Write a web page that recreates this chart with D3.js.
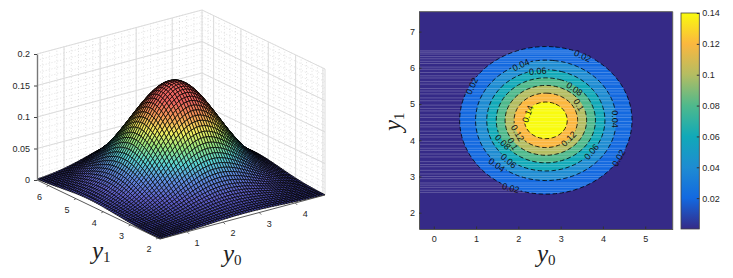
<!DOCTYPE html>
<html>
<head>
<meta charset="utf-8">
<script src="https://cdn.jsdelivr.net/npm/d3@7"></script>
<style>
body { margin: 0; background: #fff; }
text { font-family: "Liberation Sans", sans-serif; fill: #262626; }
.math { font-family: "Liberation Serif", serif; fill: #222; }
</style>
</head>
<body>
<div id="figure"></div>
<script>
// Nodes of the sampled density
var nodeStep = 0.075;
var y0Nodes = d3.range(81).map(function(i) { return Math.round((-0.35 + i * nodeStep) * 1000) / 1000; });
var y1Nodes = d3.range(81).map(function(i) { return Math.round((1.55 + i * nodeStep) * 1000) / 1000; });

// Slices through the peak, estimated from the contour radii in the picture.
// The surface is taken as the product of the two slices.
var peak = 0.1592;
var sliceY0 = [
    0.0018, 0.0022, 0.0027, 0.0034, 0.0042, 0.0051, 0.0062, 0.0074, 0.0089, 0.0106,
    0.0127, 0.0150, 0.0176, 0.0205, 0.0238, 0.0274, 0.0315, 0.0359, 0.0408, 0.0461,
    0.0517, 0.0577, 0.0640, 0.0706, 0.0775, 0.0845, 0.0917, 0.0990, 0.1062, 0.1133,
    0.1201, 0.1268, 0.1330, 0.1387, 0.1439, 0.1484, 0.1522, 0.1552, 0.1574, 0.1588,
    0.1592,
    0.1588, 0.1574, 0.1552, 0.1522, 0.1484, 0.1439, 0.1387, 0.1330, 0.1268, 0.1201,
    0.1133, 0.1062, 0.0990, 0.0917, 0.0845, 0.0775, 0.0706, 0.0640, 0.0577, 0.0517,
    0.0461, 0.0408, 0.0359, 0.0315, 0.0274, 0.0238, 0.0205, 0.0176, 0.0150, 0.0127,
    0.0106, 0.0089, 0.0074, 0.0062, 0.0051, 0.0042, 0.0034, 0.0027, 0.0022, 0.0018
];
var sliceY1 = [
    0.0018, 0.0022, 0.0027, 0.0034, 0.0042, 0.0051, 0.0062, 0.0074, 0.0089, 0.0106,
    0.0127, 0.0150, 0.0176, 0.0205, 0.0238, 0.0274, 0.0315, 0.0359, 0.0408, 0.0461,
    0.0517, 0.0577, 0.0640, 0.0706, 0.0775, 0.0845, 0.0917, 0.0990, 0.1062, 0.1133,
    0.1201, 0.1268, 0.1330, 0.1387, 0.1439, 0.1484, 0.1522, 0.1552, 0.1574, 0.1588,
    0.1592,
    0.1588, 0.1574, 0.1552, 0.1522, 0.1484, 0.1439, 0.1387, 0.1330, 0.1268, 0.1201,
    0.1133, 0.1062, 0.0990, 0.0917, 0.0845, 0.0775, 0.0706, 0.0640, 0.0577, 0.0517,
    0.0461, 0.0408, 0.0359, 0.0315, 0.0274, 0.0238, 0.0205, 0.0176, 0.0150, 0.0127,
    0.0106, 0.0089, 0.0074, 0.0062, 0.0051, 0.0042, 0.0034, 0.0027, 0.0022, 0.0018
];

var contourLevels = [0.02, 0.04, 0.06, 0.08, 0.1, 0.12, 0.14];
var contourLabels = ["0.02", "0.02", "0.04", "0.06", "0.08", "0.1", "0.14", "0.04", "0.12", "0.1", "0.08", "0.12", "0.06", "0.02", "0.06", "0.04", "0.02"];
var contourLabelY0 = [3.52, 0.90, 2.06, 2.46, 3.33, 3.43, 2.22, 4.28, 1.98, 1.87, 1.63, 3.19, 3.73, 4.37, 1.77, 1.49, 1.82];
var contourLabelY1 = [6.33, 5.50, 6.08, 5.91, 5.42, 4.98, 4.73, 4.59, 4.20, 3.90, 3.95, 4.04, 3.68, 3.51, 3.43, 3.32, 2.68];
var contourLabelTurn = [25, -65, -25, -5, 35, 60, -70, 90, 60, 60, 45, -45, -50, -60, 40, 35, 15];

var surfaceTicksY0 = [1, 2, 3, 4];
var surfaceTicksY1 = [2, 3, 4, 5, 6];
var surfaceTicksZ = [0, 0.05, 0.1, 0.15, 0.2];
var mapTicksY0 = [0, 1, 2, 3, 4, 5];
var mapTicksY1 = [2, 3, 4, 5, 6, 7];
var barTicks = [0.02, 0.04, 0.06, 0.08, 0.1, 0.12, 0.14];

// Rows of the pale horizontal streaks in the right panel
var streakRows = [6.47, 6.43, 6.38, 6.31, 6.25, 6.18, 6.12, 6.02, 5.96, 5.87, 5.78, 5.72, 5.62, 5.55, 5.43, 5.36,
    5.28, 5.17, 5.09, 4.97, 4.88, 4.81, 4.70, 4.63, 4.52, 4.43, 4.37, 4.25, 4.16, 4.09, 3.97, 3.89,
    3.78, 3.72, 3.62, 3.54, 3.41, 3.33, 3.27, 3.17, 3.07, 3.00, 2.94, 2.82, 2.76, 2.70, 2.62, 2.56];

var parula = ["#352a87", "#1369e0", "#1e8cd2", "#11a9b8", "#4fb98c", "#b4bd62", "#fbb73f", "#f9fb0e"];
var surfaceColors = ["#34348a", "#5f5fc8", "#5f8ee2", "#5ad6d6", "#96e680", "#f4ee60", "#f69c58", "#ec6460"];

function zAt(i, j) {
    return sliceY0[i] * sliceY1[j] / peak;
}

var svg = d3.select("#figure").append("svg").attr("width", 733).attr("height", 278);

function mathLabel(parent, x, y, sub, rotate) {
    var t = parent.append("text").attr("class", "math")
        .attr("transform", "translate(" + x + "," + y + ")" + (rotate ? " rotate(" + rotate + ")" : ""));
    t.append("tspan").attr("font-size", 25).attr("font-style", "italic").text("y");
    t.append("tspan").attr("font-size", 15).attr("dx", 0).attr("dy", 3).text(sub);
}

// ---------- left panel, 3d surface ----------
var front = [160, 239], toRight = [165, -44], toLeft = [-123, -59], zHeight = 126;

var u = d3.scaleLinear().domain([0.25, 4.825]).range([0, 1]);
var v = d3.scaleLinear().domain([1.925, 6.425]).range([0, 1]);
var w = d3.scaleLinear().domain([0, 0.2]).range([0, 1]);

function project(a, b, c) {
    var px = front[0] + u(a) * toRight[0] + v(b) * toLeft[0];
    var py = front[1] + u(a) * toRight[1] + v(b) * toLeft[1] - w(c) * zHeight;
    return [px, py];
}

var left = svg.append("g");
var y0Min = u.domain()[0], y0Max = u.domain()[1], y1Min = v.domain()[0], y1Max = v.domain()[1];

function wallLine(p, q, color, width, dash) {
    left.append("line")
        .attr("x1", p[0]).attr("y1", p[1]).attr("x2", q[0]).attr("y2", q[1])
        .attr("stroke", color).attr("stroke-width", width).attr("stroke-dasharray", dash);
}

// minor grid first, dotted
d3.range(0.2, 5, 0.2).forEach(function(a) {
    if (a > y0Min && a < y0Max) wallLine(project(a, y1Max, 0), project(a, y1Max, 0.2), "#d4d4d4", 0.7, "1,2");
});
d3.range(2, 6.5, 0.2).forEach(function(b) {
    if (b > y1Min && b < y1Max) wallLine(project(y0Max, b, 0), project(y0Max, b, 0.2), "#d4d4d4", 0.7, "1,2");
});
d3.range(0, 0.2001, 0.01).forEach(function(c) {
    wallLine(project(y0Min, y1Max, c), project(y0Max, y1Max, c), "#d4d4d4", 0.7, "1,2");
    wallLine(project(y0Max, y1Max, c), project(y0Max, y1Min, c), "#d4d4d4", 0.7, "1,2");
});
// major grid
surfaceTicksY0.forEach(function(a) {
    wallLine(project(a, y1Max, 0), project(a, y1Max, 0.2), "#dcdcdc", 1);
});
surfaceTicksY1.forEach(function(b) {
    if (b > y1Min) wallLine(project(y0Max, b, 0), project(y0Max, b, 0.2), "#dcdcdc", 1);
});
surfaceTicksZ.forEach(function(c) {
    wallLine(project(y0Min, y1Max, c), project(y0Max, y1Max, c), "#dcdcdc", 1);
    wallLine(project(y0Max, y1Max, c), project(y0Max, y1Min, c), "#dcdcdc", 1);
});
wallLine(project(y0Max, y1Max, 0), project(y0Max, y1Max, 0.2), "#dcdcdc", 1);
wallLine(project(y0Max, y1Min, 0), project(y0Max, y1Min, 0.2), "#dcdcdc", 1);

// surface cells, far corner first
var surfaceColor = d3.scaleLinear()
    .domain(d3.range(8).map(function(k) { return k * 0.135 / 7; }))
    .range(surfaceColors)
    .clamp(true);

var cells = [];
for (var i = y0Nodes.length - 2; i >= 0; i--) {
    for (var j = y1Nodes.length - 2; j >= 0; j--) {
        if (y0Nodes[i] < y0Min - 0.001 || y0Nodes[i + 1] > y0Max + 0.001) continue;
        if (y1Nodes[j] < y1Min - 0.001 || y1Nodes[j + 1] > y1Max + 0.001) continue;
        cells.push([i, j]);
    }
}
var line3d = d3.line();
left.append("g").selectAll("path").data(cells).join("path")
    .attr("d", function(c) {
        var i = c[0], j = c[1];
        return line3d([
            project(y0Nodes[i], y1Nodes[j], zAt(i, j)),
            project(y0Nodes[i + 1], y1Nodes[j], zAt(i + 1, j)),
            project(y0Nodes[i + 1], y1Nodes[j + 1], zAt(i + 1, j + 1)),
            project(y0Nodes[i], y1Nodes[j + 1], zAt(i, j + 1))
        ]) + "Z";
    })
    .attr("fill", function(c) { return surfaceColor(zAt(c[0], c[1])); })
    .attr("stroke", "#000")
    .attr("stroke-width", 0.7);

// floor axes and ticks
wallLine(project(y0Min, y1Max, 0), project(y0Min, y1Min, 0), "#444", 0.9);
wallLine(project(y0Min, y1Min, 0), project(y0Max, y1Min, 0), "#444", 0.9);
surfaceTicksY0.forEach(function(a) {
    var p = project(a, y1Min, 0);
    wallLine(p, [p[0] + 2, p[1] + 2], "#444", 0.8);
    left.append("text").attr("x", p[0] + 10).attr("y", p[1] + 14)
        .attr("text-anchor", "middle").attr("font-size", 9).text(a);
});
surfaceTicksY1.forEach(function(b) {
    var p = project(y0Min, b, 0);
    wallLine(p, [p[0] - 2, p[1] + 1], "#444", 0.8);
    left.append("text").attr("x", p[0] - 9).attr("y", p[1] + 14)
        .attr("text-anchor", "middle").attr("font-size", 9).text(b);
});

var zAxisScale = d3.scaleLinear().domain(w.domain()).range([project(y0Min, y1Max, 0)[1], project(y0Min, y1Max, 0.2)[1]]);
var zAxis = left.append("g")
    .attr("transform", "translate(" + project(y0Min, y1Max, 0)[0] + ",0)")
    .call(d3.axisLeft(zAxisScale).tickValues(surfaceTicksZ).tickFormat(d3.format("~g")).tickSize(3).tickSizeOuter(0).tickPadding(4));
zAxis.select(".domain").attr("stroke", "#777").attr("stroke-width", 1.4);
zAxis.selectAll("line").attr("stroke", "#444");
zAxis.selectAll("text").attr("font-size", 9).attr("font-family", null);

mathLabel(svg, 92, 259, "1");
mathLabel(svg, 223, 262, "0");

// ---------- right panel, filled contours ----------
var frameX = [419, 672.7], frameY = [229, 11.7];
var xMap = d3.scaleLinear().domain([-0.35, 5.65]).range(frameX);
var yMap = d3.scaleLinear().domain([1.55, 7.55]).range(frameY);

var right = svg.append("g");
var defs = svg.append("defs");
defs.append("clipPath").attr("id", "frameClip").append("rect")
    .attr("x", frameX[0]).attr("y", frameY[1])
    .attr("width", frameX[1] - frameX[0]).attr("height", frameY[0] - frameY[1]);

var zFlat = [];
for (var r = 0; r < y1Nodes.length; r++) {
    for (var s = 0; s < y0Nodes.length; s++) {
        zFlat.push(zAt(s, r));
    }
}
var contourRings = d3.contours().size([y0Nodes.length, y1Nodes.length]).thresholds(contourLevels)(zFlat);
var gridToScreen = d3.geoTransform({
    point: function(gx, gy) {
        this.stream.point(xMap(-0.35 + (gx - 0.5) * nodeStep), yMap(1.55 + (gy - 0.5) * nodeStep));
    }
});
var ringPath = d3.geoPath(gridToScreen);

var bandColor = d3.scaleLinear()
    .domain(d3.range(8).map(function(k) { return k * 0.02; }))
    .range(parula);

var mapArea = right.append("g").attr("clip-path", "url(#frameClip)");
mapArea.append("rect")
    .attr("x", frameX[0]).attr("y", frameY[1])
    .attr("width", frameX[1] - frameX[0]).attr("height", frameY[0] - frameY[1])
    .attr("fill", parula[0]);
mapArea.selectAll("path.band").data(contourRings).join("path")
    .attr("class", "band")
    .attr("d", ringPath)
    .attr("fill", function(d) { return bandColor(d.value); });

// streaks stop at the right side of the outer contour
var streakClip = defs.append("clipPath").attr("id", "streakClip");
streakClip.append("path").attr("d", ringPath(contourRings[0]));
streakClip.append("rect")
    .attr("x", frameX[0]).attr("y", frameY[1])
    .attr("width", xMap(2.65) - frameX[0]).attr("height", frameY[0] - frameY[1]);
mapArea.append("g").attr("clip-path", "url(#streakClip)")
    .selectAll("line").data(streakRows).join("line")
    .attr("x1", frameX[0]).attr("x2", frameX[1])
    .attr("y1", function(d) { return yMap(d); }).attr("y2", function(d) { return yMap(d); })
    .attr("stroke", "#fff").attr("stroke-opacity", 0.28).attr("stroke-width", 0.8);

// contour lines break under their labels
var labelTransform = function(d, k) {
    return "translate(" + xMap(contourLabelY0[k]) + "," + yMap(contourLabelY1[k]) + ") rotate(" + contourLabelTurn[k] + ")";
};
var edgeMask = defs.append("mask").attr("id", "edgeMask").attr("maskUnits", "userSpaceOnUse")
    .attr("x", 0).attr("y", 0).attr("width", 733).attr("height", 278);
edgeMask.append("rect").attr("width", 733).attr("height", 278).attr("fill", "#fff");
edgeMask.selectAll("rect.hole").data(contourLabels).join("rect")
    .attr("class", "hole")
    .attr("transform", labelTransform)
    .attr("x", function(d) { return -d.length * 2.3 - 1; })
    .attr("width", function(d) { return d.length * 4.6 + 2; })
    .attr("y", -4).attr("height", 8)
    .attr("fill", "#000");

mapArea.append("g").attr("mask", "url(#edgeMask)")
    .selectAll("path.edge").data(contourRings).join("path")
    .attr("class", "edge")
    .attr("d", ringPath)
    .attr("fill", "none")
    .attr("stroke", "#000")
    .attr("stroke-width", 0.8)
    .attr("stroke-dasharray", "4.5,2.5");

right.append("g").selectAll("text").data(contourLabels).join("text")
    .attr("transform", labelTransform)
    .attr("text-anchor", "middle")
    .attr("dy", "0.35em")
    .attr("font-size", 9)
    .style("fill", "#111")
    .text(function(d) { return d; });

var xAxisMap = right.append("g").attr("transform", "translate(0," + frameY[0] + ")")
    .call(d3.axisBottom(xMap).tickValues(mapTicksY0).tickFormat(d3.format("d")).tickSize(-2.5).tickSizeOuter(0).tickPadding(7));
var yAxisMap = right.append("g").attr("transform", "translate(" + frameX[0] + ",0)")
    .call(d3.axisLeft(yMap).tickValues(mapTicksY1).tickFormat(d3.format("d")).tickSize(-2.5).tickSizeOuter(0).tickPadding(4));
[xAxisMap, yAxisMap].forEach(function(axis) {
    axis.selectAll("line").attr("stroke", "#333");
    axis.selectAll("text").attr("font-size", 9).attr("font-family", null);
    axis.select(".domain").attr("stroke", "#555");
});
right.append("line").attr("x1", frameX[0]).attr("x2", frameX[1]).attr("y1", frameY[1]).attr("y2", frameY[1]).attr("stroke", "#555");
right.append("line").attr("x1", frameX[1]).attr("x2", frameX[1]).attr("y1", frameY[0]).attr("y2", frameY[1]).attr("stroke", "#555");

mathLabel(svg, 537, 262, "0");
mathLabel(svg, 401, 131, "1", -90);

// ---------- colorbar ----------
var barX = [681, 699.3];
var yBar = d3.scaleLinear().domain([0, 0.14]).range([229, 13]);
var barGradient = defs.append("linearGradient").attr("id", "barGradient")
    .attr("x1", 0).attr("x2", 0).attr("y1", 1).attr("y2", 0);
barGradient.selectAll("stop").data(parula).join("stop")
    .attr("offset", function(d, k) { return k / (parula.length - 1); })
    .attr("stop-color", function(d) { return d; });
right.append("rect")
    .attr("x", barX[0]).attr("y", yBar(0.14))
    .attr("width", barX[1] - barX[0]).attr("height", yBar(0) - yBar(0.14))
    .attr("fill", "url(#barGradient)")
    .attr("stroke", "#444").attr("stroke-width", 0.8);
var barAxis = right.append("g").attr("transform", "translate(" + barX[1] + ",0)")
    .call(d3.axisRight(yBar).tickValues(barTicks).tickFormat(d3.format("~g")).tickSize(-2.5).tickSizeOuter(0).tickPadding(3));
barAxis.select(".domain").remove();
barAxis.selectAll("line").attr("stroke", "#333");
barAxis.selectAll("text").attr("font-size", 9).attr("font-family", null);
</script>
</body>
</html>
